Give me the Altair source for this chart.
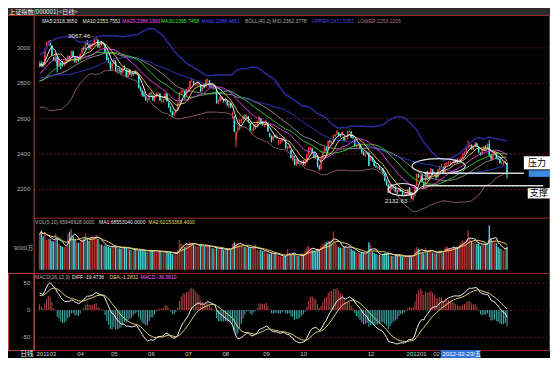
import altair as alt
import pandas as pd
import numpy as np

# ---------------- data ----------------
# daily candles, 2011-03-01 .. 2012-03-28 (one line per month)
opn = [
 2900,2915,2905,2905,2995,3030,3035,3012,2945,2930,2950,2900,2915,2910,2905,2915,2935,2950,2950,2980,2945,2925,2940,
 2930,2970,3000,2995,3035,3015,2995,3020,3025,3050,3045,3000,3030,3020,3020,2970,2930,2920,2885,
 2915,2925,2865,2875,2870,2860,2890,2875,2835,2870,2850,2845,2865,2855,2850,2770,2760,2740,2725,2705,2710,
 2745,2725,2705,2730,2740,2740,2700,2700,2710,2740,2690,2660,2640,2620,2635,2650,2690,2745,2750,2755,2730,
 2765,2770,2815,2810,2795,2795,2800,2790,2760,2785,2780,2818,2815,2780,2785,2775,2765,2690,2700,2720,2710,
 2700,2700,2670,2685,2620,2610,2480,2535,2540,2590,2595,2610,2605,2610,2570,2530,2535,2560,2560,2585,2600,2575,2565,
 2570,2575,2515,2500,2480,2500,2495,2460,2470,2470,2485,2475,2430,2435,2420,2370,2385,2340,2365,2345,2345,
 2355,2340,2355,2395,2430,2430,2405,2385,2375,2330,2315,2375,2410,2430,2425,2470,
 2465,2460,2500,2510,2520,2505,2505,2495,2480,2490,2525,2525,2495,2480,2440,2445,2450,2425,2410,2395,2405,2405,
 2370,2380,2360,2330,2325,2325,2310,2315,2290,2245,2225,2180,2220,2215,2215,2190,2190,2200,2190,2170,2170,2175,
 2210,2170,2145,2165,2225,2280,2270,2280,2240,2205,2295,2265,2295,2310,2280,
 2285,2270,2310,2330,2325,2295,2345,2350,2350,2350,2350,2360,2360,2360,2365,2380,2400,2410,2440,2445,2450,
 2425,2445,2460,2440,2405,2400,2420,2440,2435,2455,2390,2370,2405,2405,2375,2370,2345,2345,2350,2350,
]
high = [
 2925,2925,2920,2995,3035,3042,3045,3015,2950,2970,2955,2935,2920,2925,2925,2940,2960,2955,2985,2985,2950,2945,2945,
 2970,3000,3010,3035,3045,3025,3025,3030,3055,3067.46,3050,3030,3040,3035,3025,2980,2945,2925,2915,
 2935,2930,2885,2890,2880,2890,2900,2880,2875,2880,2860,2870,2875,2870,2852,2785,2765,2750,2735,2715,2745,
 2750,2735,2730,2750,2750,2745,2715,2710,2745,2745,2700,2670,2645,2640,2655,2690,2750,2765,2765,2760,2765,
 2780,2815,2827,2815,2805,2810,2810,2795,2790,2790,2822,2826,2818,2795,2790,2790,2770,2710,2730,2725,2715,
 2720,2705,2690,2690,2640,2615,2530,2560,2595,2600,2620,2625,2625,2615,2575,2545,2570,2570,2590,2615,2605,2585,2575,
 2595,2580,2520,2505,2505,2510,2510,2480,2480,2490,2495,2480,2445,2450,2425,2400,2390,2375,2375,2360,2365,
 2365,2370,2400,2440,2440,2435,2410,2395,2380,2340,2380,2415,2440,2440,2475,2480,
 2475,2510,2515,2536,2525,2515,2530,2500,2490,2530,2535,2530,2505,2485,2455,2460,2455,2430,2415,2410,2415,2410,
 2395,2385,2365,2340,2335,2335,2320,2320,2295,2255,2230,2230,2230,2225,2220,2200,2210,2205,2195,2180,2180,2200,
 2215,2185,2170,2225,2290,2290,2285,2290,2245,2300,2305,2295,2320,2315,2300,
 2290,2315,2335,2345,2330,2350,2355,2360,2360,2355,2370,2370,2375,2375,2385,2405,2415,2440,2478,2460,2455,
 2450,2470,2465,2445,2410,2425,2445,2450,2460,2478,2400,2410,2415,2410,2385,2375,2360,2355,2365,2352,
]
low = [
 2890,2890,2890,2900,2990,3015,3010,2955,2925,2920,2861,2895,2880,2895,2895,2905,2925,2935,2945,2950,2915,2915,2920,
 2925,2965,2985,2990,3015,2990,2990,3005,3015,3040,3000,2995,3015,3010,2975,2930,2915,2870,2875,
 2905,2865,2855,2860,2850,2855,2875,2835,2830,2845,2835,2840,2850,2845,2770,2755,2725,2720,2700,2690,2705,
 2730,2700,2695,2720,2730,2700,2690,2690,2705,2695,2660,2635,2610,2615,2625,2645,2685,2735,2740,2710,2725,
 2755,2768,2805,2790,2785,2785,2790,2750,2755,2770,2775,2805,2775,2770,2765,2765,2685,2680,2695,2705,2690,
 2695,2670,2660,2660,2600,2525,2437,2520,2535,2575,2590,2600,2600,2575,2530,2520,2530,2540,2555,2580,2565,2560,2550,
 2565,2525,2495,2465,2475,2490,2485,2450,2455,2465,2475,2430,2420,2430,2375,2360,2335,2330,2345,2335,2340,
 2335,2330,2345,2390,2420,2405,2380,2375,2325,2307,2310,2370,2405,2415,2420,2460,
 2450,2455,2495,2505,2500,2495,2500,2470,2470,2485,2520,2490,2485,2440,2435,2440,2425,2400,2390,2385,2395,2330,
 2360,2355,2330,2320,2315,2310,2300,2285,2245,2220,2180,2175,2200,2205,2185,2175,2185,2185,2165,2160,2160,2170,
 2165,2145,2132.63,2160,2220,2265,2255,2240,2200,2200,2265,2260,2290,2280,2275,
 2260,2265,2305,2325,2285,2290,2335,2340,2335,2335,2345,2350,2350,2355,2360,2375,2395,2405,2430,2435,2425,
 2420,2440,2440,2405,2390,2395,2415,2425,2430,2385,2365,2365,2395,2370,2365,2345,2340,2335,2345,2262,
]
close = [
 2918,2900,2899,2993,3029,3036,3018,2958,2937,2963,2896,2931,2899,2906,2915,2933,2954,2946,2977,2953,2923,2939,2928,
 2967,2999,2993,3030,3022,2999,3020,3022,3050,3057,3007,3027,3029,3026,2976,2932,2925,2889,2911,
 2932,2871,2880,2872,2863,2887,2883,2838,2872,2853,2850,2863,2858,2859,2774,2767,2736,2727,2709,2709,2743,
 2743,2705,2728,2743,2741,2704,2705,2705,2743,2700,2664,2642,2621,2637,2650,2688,2746,2748,2758,2728,2762,
 2767,2813,2816,2798,2796,2797,2804,2755,2788,2777,2821,2820,2780,2786,2777,2776,2688,2702,2724,2713,2701,
 2708,2678,2684,2668,2626,2527,2526,2549,2594,2594,2612,2608,2615,2578,2534,2532,2564,2560,2582,2612,2571,2570,2567,
 2584,2528,2504,2479,2500,2498,2497,2472,2471,2484,2482,2432,2433,2444,2379,2394,2342,2369,2347,2346,2359,
 2344,2359,2396,2438,2431,2411,2383,2383,2331,2317,2375,2412,2434,2422,2473,2468,
 2470,2505,2508,2528,2508,2503,2525,2479,2481,2529,2530,2494,2490,2446,2448,2451,2428,2411,2395,2402,2410,2333,
 2386,2361,2334,2326,2326,2316,2315,2291,2248,2228,2181,2225,2219,2215,2191,2187,2204,2190,2171,2171,2173,2199,
 2169,2149,2163,2225,2285,2276,2276,2244,2206,2298,2266,2292,2319,2285,2292,
 2268,2313,2331,2331,2291,2347,2350,2352,2351,2351,2366,2357,2357,2363,2381,2403,2410,2439,2447,2451,2428,
 2445,2460,2445,2410,2395,2420,2439,2434,2455,2391,2373,2405,2410,2376,2372,2349,2350,2347,2350,2284,
]
# volume, millions of lots
volume = [
 150,164,140,158,125,130,128,120,118,150,132,110,100,96,95,98,150,160,170,140,128,115,112,
 118,125,130,152,128,120,135,138,140,145,128,110,105,100,102,98,96,92,100,
 95,98,92,90,88,94,96,90,88,85,82,80,86,84,78,85,82,80,76,75,82,
 82,78,80,76,75,78,74,72,74,76,70,72,66,65,64,80,125,110,105,95,108,
 110,117,112,105,100,98,104,100,96,95,105,102,98,92,90,88,95,86,85,88,84,
 85,88,84,86,108,115,112,110,105,100,96,95,92,94,90,88,92,105,82,80,84,78,80,
 72,68,66,70,65,68,64,58,56,55,54,56,85,70,62,68,65,60,58,56,62,
 60,78,95,100,90,82,80,76,88,84,100,108,112,115,120,118,
 125,160,118,105,95,92,90,96,100,92,98,88,82,78,72,70,68,74,70,66,72,115,
 105,75,70,66,64,62,60,66,70,68,75,60,58,56,62,58,60,56,55,54,56,62,
 58,55,62,85,95,88,80,70,68,92,78,75,82,72,70,
 68,72,80,82,70,94,98,90,86,88,100,92,95,104,115,122,118,125,165,130,120,
 112,115,108,110,100,105,110,106,112,185,130,120,118,110,95,88,86,80,92,96,
]
# closes before the window (Nov 2010 - Feb 2011), only used to warm up the indicators
pre_close = [
 2985,2900,2830,2890,2880,2840,2830,2870,2880,2820,
 2820,2829,2842,2857,2875,2853,2837,2895,2932,2925,2894,2881,2894,2847,2898,2889,2857,2831,2785,2751,2769,2760,2808,
 2852,2839,2824,2838,2791,2805,2821,2827,2791,2706,2728,2753,2677,2715,2677,2674,2706,2749,2752,2790,
 2798,2774,2818,2827,2899,2900,2918,2933,2899,2936,2862,2879,2895,2905,2905,
]
month_pos = [0, 23, 42, 63, 84, 105, 128, 149, 187, 209, 224]
month_lab = ["201103", "04", "05", "06", "07", "08", "09", "10", "12", "201201", "02"]
price_ticks = [3000, 2800, 2600, 2400, 2200]
macd_ticks = [50, 0, -50]
peak_idx, peak_val = 32, 3067.46
trough_idx, trough_val = 211, 2132.63

# ---------------- layout helpers ----------------
W, H = 542, 350
SX, SY = W / 560, H / 373
def X(x): return round(x * SX, 2)
def Y(y): return round(y * SY, 2)

def ydom(va, ya, vb, yb):
    pa, pb = Y(ya), Y(yb)
    k = (pb - pa) / (va - vb)
    return [va - (H - pa) / k, va + pa / k]

X0, STEP = 27.9, 1.864
xd0 = -X0 / STEP
xs = alt.Scale(domain=[xd0, xd0 + 560 / STEP], nice=False, zero=False)
ps = alt.Scale(domain=ydom(3000, 42.5, 2200, 193.3), nice=False, zero=False)
vs = alt.Scale(domain=ydom(90, 256, 0, 279), nice=False, zero=False)
ms = alt.Scale(domain=ydom(50, 293, 0, 322), nice=False, zero=False)
XI = alt.X('i:Q', scale=xs, axis=None)

FONT = "Liberation Sans, Noto Sans CJK SC"
CJK = "Noto Sans CJK SC"
ONE = pd.DataFrame({'k': [0]})
HS = 5.0  # header font size

def label(t, x, y, color, size=HS, align='left', font=FONT):
    return alt.Chart(pd.DataFrame({'t': [t]})).mark_text(
        align=align, baseline='middle', color=color, fontSize=size, font=font
    ).encode(x=alt.value(X(x)), y=alt.value(Y(y)), text='t:N')

def box(x1, y1, x2, y2, **kw):
    return alt.Chart(ONE).mark_rect(**kw).encode(
        x=alt.value(X(x1)), x2=alt.value(X(x2)), y=alt.value(Y(y1)), y2=alt.value(Y(y2)))

def hline(y, x1, x2, color, sw=1, dash=None):
    kw = dict(color=color, strokeWidth=sw)
    if dash:
        kw['strokeDash'] = dash
    return alt.Chart(ONE).mark_rule(**kw).encode(
        x=alt.value(X(x1)), x2=alt.value(X(x2)), y=alt.value(Y(y)))

def vline(x, y1, y2, color, sw=1):
    return alt.Chart(ONE).mark_rule(color=color, strokeWidth=sw).encode(
        x=alt.value(X(x)), y=alt.value(Y(y1)), y2=alt.value(Y(y2)))

def ellipse(cx, cy, w, h):
    r = round(Y(h) / X(w), 3)
    path = f"M-1,0A1,{r} 0 1,1 1,0A1,{r} 0 1,1 -1,0Z"
    return alt.Chart(ONE).mark_point(shape=path, size=X(w) ** 2, filled=False,
                                     color='#e8e8e8', strokeWidth=1.1, opacity=1).encode(
        x=alt.value(X(cx)), y=alt.value(Y(cy)))

# ---------------- indicators ----------------
n = len(close)
df = pd.DataFrame({'i': np.arange(n), 'o': opn, 'h': high, 'l': low, 'c': close, 'vol': volume})
df['dir'] = np.where(df.c >= df.o, 'up', 'down')
df['z'] = 0.0

full = pd.Series(pre_close + close, dtype=float)
npre = len(pre_close)
def ma(s, k): return s.rolling(k, min_periods=1).mean()
ind = pd.DataFrame({'MA5': ma(full, 5), 'MA10': ma(full, 10), 'MA20': ma(full, 20),
                    'MA30': ma(full, 30), 'MA60': ma(full, 60)})
mid = ma(full, 40)
sd = full.rolling(40, min_periods=1).std(ddof=0)
ind['MID'] = mid
ind['UPPER'] = mid + 2 * sd
ind['LOWER'] = mid - 2 * sd
e12 = full.ewm(span=12, adjust=False).mean()
e26 = full.ewm(span=26, adjust=False).mean()
ind['DIFF'] = e12 - e26
ind['DEA'] = ind['DIFF'].ewm(span=9, adjust=False).mean()
ind['MACD'] = 2 * (ind['DIFF'] - ind['DEA'])
ind = ind.iloc[npre:].reset_index(drop=True)
ind['i'] = np.arange(n)
ind['z'] = 0.0
ind['mdir'] = np.where(ind['MACD'] >= 0, 'up', 'down')

ma_names = ['LOWER', 'MID', 'MA60', 'MA30', 'MA20', 'MA10', 'MA5']
ma_colors = ['#8a5a6a', '#8c8c8c', '#3038c0', '#2fc82f', '#e040e0', '#e0c450', '#f0f0f0']
lines = ind[['i'] + ma_names].melt('i', var_name='s', value_name='v')
upper = ind[['i', 'UPPER']]

df['vma5'] = df['vol'].rolling(5, min_periods=1).mean()
df['vma10'] = df['vol'].rolling(10, min_periods=1).mean()
vlines = df[['i', 'vma5', 'vma10']].melt('i', var_name='s', value_name='v')
macdl = ind[['i', 'DIFF', 'DEA']].melt('i', var_name='s', value_name='v')

UPC, DNC = '#e8403c', '#4ee6e6'
dir_scale = alt.Scale(domain=['up', 'down'], range=[UPC, DNC])
RED = '#9a2a2a'
GRID = '#5c1a1a'

layers = []
# frame
layers.append(box(0, 0, 560, 8, fill='#2c2c2c'))
layers.append(label("上证指数(000001)<日线>", 1, 4.6, '#f0f0f0', size=6.2, font=CJK))
grid_p = pd.DataFrame({'v': price_ticks, 't': [str(v) for v in price_ticks]})
layers.append(alt.Chart(grid_p).mark_rule(color=GRID, strokeDash=[2, 2]).encode(
    y=alt.Y('v:Q', scale=ps, axis=None), x=alt.value(X(27)), x2=alt.value(X(560))))
grid_m = pd.DataFrame({'v': macd_ticks, 't': [str(v) for v in macd_ticks]})
layers.append(alt.Chart(grid_m).mark_rule(color=GRID, strokeDash=[2, 2]).encode(
    y=alt.Y('v:Q', scale=ms, axis=None), x=alt.value(X(27)), x2=alt.value(X(560))))
for yy in (8, 224, 283, 365):
    layers.append(hline(yy, 0 if yy in (8, 365) else 27, 560, RED))
layers.append(vline(27, 8, 365, '#b04040'))
layers.append(vline(559.5, 8, 365, RED))
layers.append(box(0.5, 283, 27, 365, fill='transparent', stroke='#c04848', strokeWidth=1))

# axis labels
layers.append(alt.Chart(grid_p).mark_text(align='right', baseline='middle', color='#b4b4b4',
                                          fontSize=6, font=FONT).encode(
    y=alt.Y('v:Q', scale=ps, axis=None), x=alt.value(X(23)), text='t:N'))
layers.append(alt.Chart(pd.DataFrame({'v': [90], 't': ['9000万']})).mark_text(
    align='right', baseline='middle', color='#b4b4b4', fontSize=6, font=FONT).encode(
    y=alt.Y('v:Q', scale=vs, axis=None), x=alt.value(X(26)), text='t:N'))
layers.append(alt.Chart(grid_m).mark_text(align='right', baseline='middle', color='#b4b4b4',
                                          fontSize=6, font=FONT).encode(
    y=alt.Y('v:Q', scale=ms, axis=None), x=alt.value(X(23)), text='t:N'))

# candles
layers.append(alt.Chart(df).mark_rule(strokeWidth=1).encode(
    x=XI, y=alt.Y('l:Q', scale=ps, axis=None), y2='h:Q',
    color=alt.Color('dir:N', scale=dir_scale, legend=None)))
layers.append(alt.Chart(df).mark_bar(size=1.4).encode(
    x=XI, y=alt.Y('o:Q', scale=ps, axis=None), y2='c:Q',
    color=alt.Color('dir:N', scale=dir_scale, legend=None)))
# indicator lines
layers.append(alt.Chart(upper).mark_line(strokeWidth=1.5, color='#2a2a9c').encode(
    x=XI, y=alt.Y('UPPER:Q', scale=ps, axis=None)))
layers.append(alt.Chart(lines).mark_line(strokeWidth=1).encode(
    x=XI, y=alt.Y('v:Q', scale=ps, axis=None),
    color=alt.Color('s:N', scale=alt.Scale(domain=ma_names, range=ma_colors), legend=None)))

# volume
layers.append(alt.Chart(df).mark_bar(size=1.4).encode(
    x=XI, y=alt.Y('vol:Q', scale=vs, axis=None), y2='z:Q',
    color=alt.Color('dir:N', scale=alt.Scale(domain=['up', 'down'], range=['#a83232', '#48d2d2']),
                    legend=None)))
layers.append(alt.Chart(vlines).mark_line(strokeWidth=1).encode(
    x=XI, y=alt.Y('v:Q', scale=vs, axis=None),
    color=alt.Color('s:N', scale=alt.Scale(domain=['vma5', 'vma10'], range=['#f0f0f0', '#e8d060']),
                    legend=None)))

# MACD
layers.append(alt.Chart(ind).mark_rule(strokeWidth=1).encode(
    x=XI, y=alt.Y('MACD:Q', scale=ms, axis=None), y2='z:Q',
    color=alt.Color('mdir:N', scale=alt.Scale(domain=['up', 'down'], range=['#b44444', '#44aaaa']),
                    legend=None)))
layers.append(alt.Chart(macdl).mark_line(strokeWidth=1).encode(
    x=XI, y=alt.Y('v:Q', scale=ms, axis=None),
    color=alt.Color('s:N', scale=alt.Scale(domain=['DIFF', 'DEA'], range=['#f0f0f0', '#e0d080']),
                    legend=None)))

# header texts
for t, x, c in [("MA5:2318.3650", 35, '#e8e8e8'), ("MA10:2353.7551", 77, '#e8e8c8'),
                ("MA20:2386.1993", 118, '#ff50ff'), ("MA30:2395.7458", 158, '#40e040'),
                ("MA60:2388.4861", 200, '#4a4aff'), ("BOLL(40,2) MID:2362.3778", 245, '#a8a8a8'),
                ("UPPER:2471.5351", 314, '#5048e0'), ("LOWER:2253.2205", 361, '#b07090')]:
    layers.append(label(t, x, 13.5, c))
for t, x, c in [("VOL(5,10) 65946928.0000", 28, '#b0b0b0'), ("MA1:68553040.0000", 94, '#e8e8e8'),
                ("MA2:62153368.4000", 145, '#e8d870')]:
    layers.append(label(t, x, 228.5, c))
for t, x, c in [("MACD(26,12,9)", 28, '#b0b0b0'), ("DIFF:-19.4736", 66, '#e8e8e8'),
                ("DEA:-1.2831", 105, '#e8d870'), ("MACD:-36.3810", 137, '#ff60ff')]:
    layers.append(label(t, x, 287, c))

# extreme labels
ext = pd.DataFrame({'i': [peak_idx, trough_idx], 'p': [peak_val, trough_val],
                    't': [f"{peak_val:.2f} -", f"{trough_val:.2f} -"]})
layers.append(alt.Chart(ext).mark_text(align='right', baseline='middle', color='#e0e0e0',
                                       fontSize=6.2, font=FONT, dx=-2).encode(
    x=XI, y=alt.Y('p:Q', scale=ps, axis=None), text='t:N'))

# date axis
mdf = pd.DataFrame({'i': month_pos, 't': month_lab})
layers.append(alt.Chart(mdf).mark_text(align='left', baseline='middle', color='#c8c8c8',
                                       fontSize=6, font=FONT, dx=-3).encode(
    x=XI, y=alt.value(Y(369)), text='t:N'))
layers.append(label("日线", 13, 369, '#f0f0f0', size=6.5, font=CJK))
layers.append(box(447, 364.5, 488, 373, fill='#3474d8'))
layers.append(label("2012-02-23/五", 449, 369, '#ffffff', size=6, font=FONT))

# annotations
layers.append(ellipse(408, 193.5, 30, 13))
layers.append(ellipse(445, 168.5, 55, 16))
layers.append(hline(176, 430, 533, '#d8d8d8', sw=1.5))
layers.append(hline(189.3, 432, 553, '#d8d8d8', sw=1.5))
layers.append(box(533, 158, 560, 172, fill='#ffffff'))
layers.append(box(538, 173, 560, 180, fill='#3c8ce0'))
layers.append(label("压力", 546.5, 165.5, '#000000', size=9, align='center', font=CJK))
layers.append(box(537, 192, 560, 203, fill='#ffffff'))
layers.append(label("支撑", 548.5, 197.5, '#000000', size=9, align='center', font=CJK))

chart = alt.layer(*layers).resolve_scale(y='independent', color='independent').properties(
    width=W, height=H, padding=0, background='#000000',
    autosize=alt.AutoSizeParams(type='none')
).configure_view(stroke=None)

chart.save("out.html", embed_options={"renderer": "svg", "actions": False})
